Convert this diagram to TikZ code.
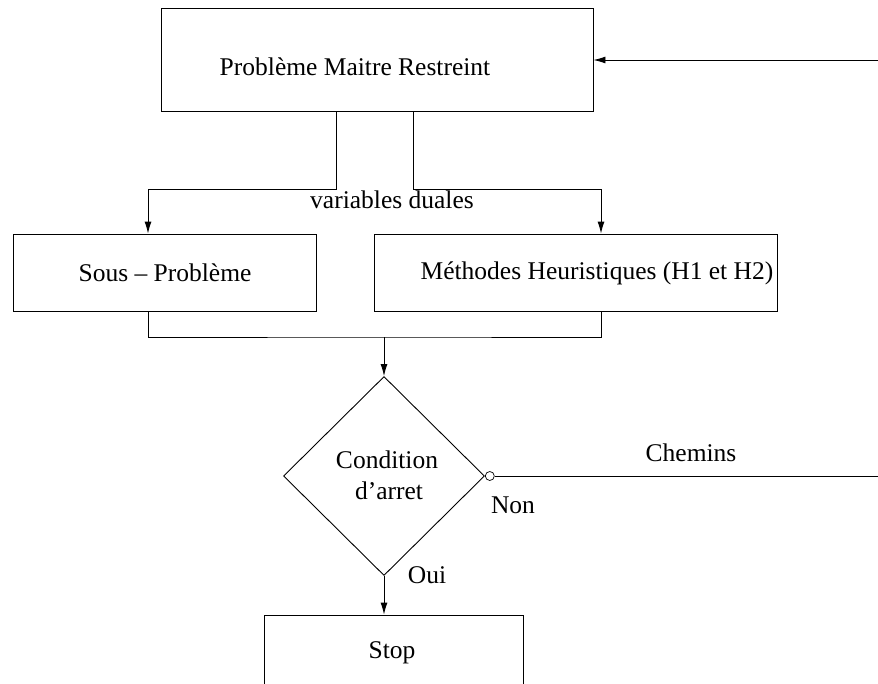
\documentclass[tikz,border=0pt]{standalone}
\usepackage{fontspec}
\setmainfont{Liberation Serif}
\usetikzlibrary{arrows.meta,shapes.geometric}
\begin{document}
\begin{tikzpicture}[x=1pt,y=-1pt,
  line width=0.9pt,
  box/.style={draw, rectangle, inner sep=0pt},
  arr/.style={-{Latex[length=12pt,width=7pt]}},
  lbl/.style={inner sep=0pt, font=\fontsize{25.5}{30}\selectfont}]
\useasboundingbox (0,0) rectangle (878,683);
% boxes
\node[box, minimum width=432pt, minimum height=103pt] (pmr) at (377,59.5) {};
\node[box, minimum width=303pt, minimum height=77pt] (sp) at (164.5,272.5) {};
\node[box, minimum width=403pt, minimum height=77pt] (mh) at (575.5,272.5) {};
\node[draw, diamond, inner sep=0pt, minimum width=201pt, minimum height=199pt] (dia) at (384,476) {};
\node[box, minimum width=259pt, minimum height=110pt] (stop) at (393.5,670) {};
\node[draw, circle, inner sep=0pt, minimum size=9pt, anchor=west, line width=0.7pt] (oc) at (dia.east) {};
% labels
\node[lbl] (tpmr) at (355,67) {Problème Maitre Restreint};
\node[lbl] (tsp) at (165,273) {Sous – Problème};
\node[lbl] (tmh) at (597,273) {Méthodes Heuristiques (H1 et H2)};
\node[lbl] (tvd) at (392,200) {variables duales};
\node[lbl] (tc1) at (387,460) {Condition};
\node[lbl] (tc2) at (389,491) {d’arret};
\node[lbl] (tnon) at (513,505) {Non};
\node[lbl] (toui) at (427,575) {Oui};
\node[lbl] (tch) at (691,453) {Chemins};
\node[lbl] (tstop) at (392,653) {Stop};
% helper coordinates
\coordinate (rin) at (878,60);
\coordinate (c1) at (336,189);
\coordinate (c2) at (413,189);
\coordinate (xl) at (148,189);
\coordinate (xr) at (601,189);
\coordinate (bj) at (384,337);
\coordinate (rout) at (878,478);
% connectors
\draw[arr] (rin) -- (pmr.east |- rin);
\draw[arr] (pmr.south -| c1) |- (xl) -- (sp.north -| xl);
\draw[arr] (pmr.south -| c2) |- (xr) -- (mh.north -| xr);
\draw (sp.south -| xl) |- (bj) -| (mh.south -| xr);
\draw[arr] (bj) -- (dia.north);
\draw[arr] (dia.south) -- (stop.north -| dia.south);
\draw (oc.east) -- (oc.east -| rout);
\end{tikzpicture}
\end{document}
